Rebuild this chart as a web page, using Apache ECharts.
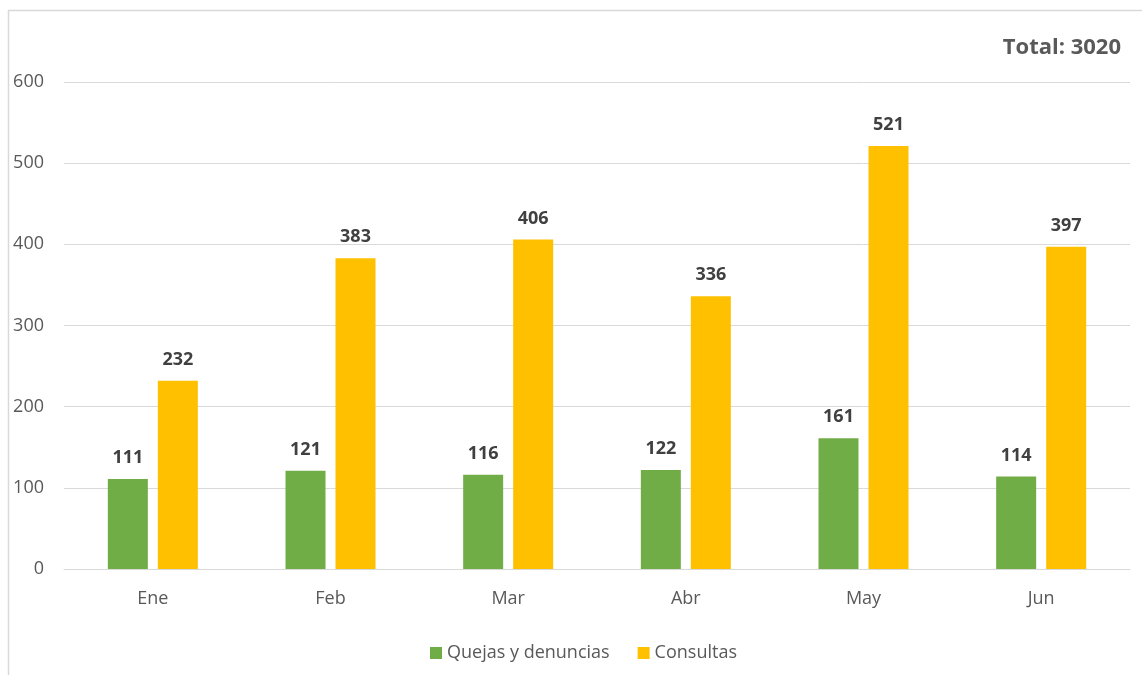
<!DOCTYPE html>
<html><head><meta charset="utf-8">
<script src="https://cdn.jsdelivr.net/npm/echarts@6/dist/echarts.min.js"></script>
<style>html,body{margin:0;padding:0;background:#fff}#c{width:1142px;height:675px}</style>
</head><body><div id="c"></div>
<script>
const categories = ['Ene','Feb','Mar','Abr','May','Jun'];
const quejas = [111,121,116,122,161,114];
const consultas = [232,383,406,336,521,397];
const yTicks = [0,100,200,300,400,500,600];
const totalText = 'Total: 3020';
const FONT = 'Open Sans';
const chart = echarts.init(document.getElementById('c'));
const labelStyle = {show:true, position:'top', distance:12, fontFamily:FONT, fontWeight:'bold', fontSize:18, color:'#404040'};
chart.setOption({
  animation:false,
  textStyle:{fontFamily:FONT},
  graphic:[
    {type:'rect', shape:{x:8.5,y:10.5,width:1300,height:800}, style:{fill:'none', stroke:'#d9d9d9', lineWidth:1.5}},
    {type:'text', right:21, top:37, style:{text:totalText, fontFamily:FONT, fontWeight:'bold', fontSize:22, fill:'#595959'}}
  ],
  grid:{left:64, right:12, top:82, bottom:106, containLabel:false},
  legend:{bottom:8, left:425, itemWidth:12, itemHeight:12, itemGap:28, icon:'rect',
    textStyle:{fontFamily:FONT, fontSize:18, color:'#595959'}},
  xAxis:{type:'category', data:categories, axisTick:{show:false},
    axisLine:{lineStyle:{color:'#d9d9d9', width:1}},
    axisLabel:{fontFamily:FONT, fontSize:18, color:'#595959', margin:21}},
  yAxis:{type:'value', min:0, max:600, interval:100,
    axisLine:{show:false}, axisTick:{show:false},
    splitLine:{lineStyle:{color:'#d9d9d9', width:1}},
    axisLabel:{fontFamily:FONT, fontSize:18, color:'#595959', margin:20,
      formatter:v=> yTicks.includes(v)? String(v):''}},
  series:[
    {name:'Quejas y denuncias', type:'bar', data:quejas, barWidth:40, barGap:'25%', itemStyle:{color:'#70AD47'}, label:labelStyle},
    {name:'Consultas', type:'bar', data:consultas, barWidth:40, barGap:'25%', itemStyle:{color:'#FFC000'}, label:labelStyle}
  ]
});
</script></body></html>
